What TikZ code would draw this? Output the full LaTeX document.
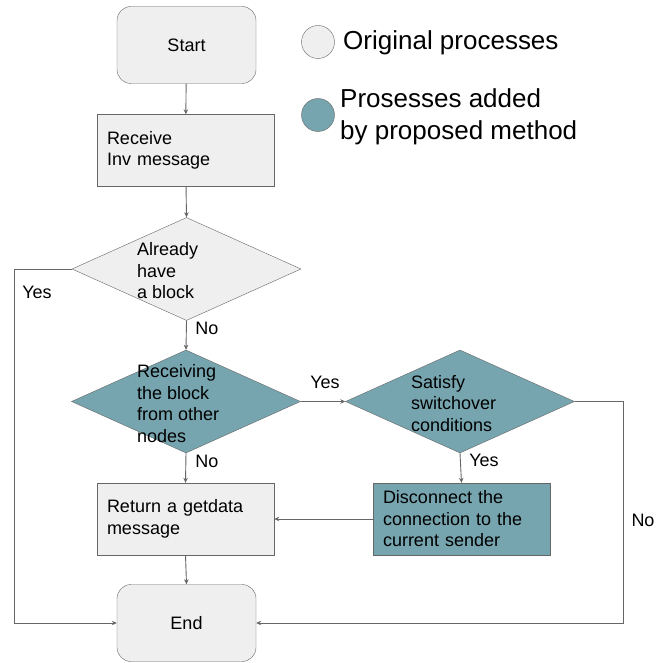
\documentclass[tikz,border=0pt]{standalone}
\usepackage{fontspec}
\setmainfont{Liberation Sans}
\usetikzlibrary{shapes.geometric,arrows.meta}
\definecolor{boxgray}{HTML}{EFEFEF}
\definecolor{teal1}{HTML}{76A5AF}
\definecolor{edge}{HTML}{666666}
\begin{document}
\begin{tikzpicture}[x=1pt,y=-1pt,
  txt/.style={font=\fontsize{18}{21.5}\selectfont},
  term/.style={draw=edge,fill=boxgray,rounded corners=14pt,minimum width=139pt,minimum height=77pt,inner sep=0pt,txt},
  proc/.style={draw=edge,minimum width=177pt,minimum height=72pt,inner xsep=10pt,text width=157pt,align=left,txt},
  orig/.style={fill=boxgray},
  added/.style={fill=teal1},
  dec/.style={draw=edge,shape=diamond,minimum width=229pt,minimum height=103pt,aspect=2.22,inner sep=0pt},
  dtext/.style={txt,align=left,anchor=west,inner sep=0pt},
  lab/.style={txt,inner sep=0pt},
  conn/.style={draw=edge,line width=0.9pt,-{Stealth[length=5pt,width=4.5pt]}},
  legtxt/.style={font=\fontsize{26}{32}\selectfont,align=left,anchor=west,inner sep=0pt}
]
\useasboundingbox (0,0) rectangle (670,663);

% legend
\node[draw=edge,orig,circle,minimum size=33pt,inner sep=0pt] (lc1) at (318,42) {};
\node[legtxt] (lt1) at (343,43) {Original processes};
\node[draw=edge,added,circle,minimum size=33pt,inner sep=0pt] (lc2) at (318,115) {};
\node[legtxt] (lt2) at (340,117) {Prosesses added\\by proposed method};

% nodes
\node[term] (start) at (186.5,45) {Start};
\node[proc,orig] (recv) at (185.5,150.5) {Receive\\Inv message};
\node[dec,orig] (d1) at (186.5,269) {};
\node[dtext] (t1) at (137,271) {Already\\have\\a block};
\node[dec,added] (d2) at (186,401.5) {};
\node[dtext] (t2) at (137,403.5) {Receiving\\the block\\from other\\nodes};
\node[dec,added] (d3) at (460,401.5) {};
\node[dtext] (t3) at (411,403.5) {Satisfy\\switchover\\conditions};
\node[proc,orig] (ret) at (185.5,519) {Return a getdata\\message};
\node[proc,added] (disc) at (461.5,519) {Disconnect the\\connection to the\\current sender};
\node[term] (end) at (186.5,623) {End};

\coordinate (yl) at (14,269);
\coordinate (nr) at (623,401.5);

% connectors
\draw[conn] (start) -- (recv);
\draw[conn] (recv) -- (d1.north);
\draw[conn] (d1.west) -- (yl) |- (end.west);
\draw[conn] (d1.south) -- (d2.north);
\draw[conn] (d2.east) -- (d3.west);
\draw[conn] (d3.east) -- (nr) |- (end.east);
\draw[conn] (d3.south) -- (disc.north);
\draw[conn] (disc.west) -- (ret.east);
\draw[conn] (d2.south) -- (ret.north);
\draw[conn] (ret.south) -- (end.north);

% labels
\node[lab] (ly1) at (37,292) {Yes};
\node[lab] (ln1) at (207,328) {No};
\node[lab] (ly2) at (325,382) {Yes};
\node[lab] (ln2) at (207,461) {No};
\node[lab] (ly3) at (484,460) {Yes};
\node[lab] (ln3) at (643,520) {No};
\end{tikzpicture}
\end{document}
